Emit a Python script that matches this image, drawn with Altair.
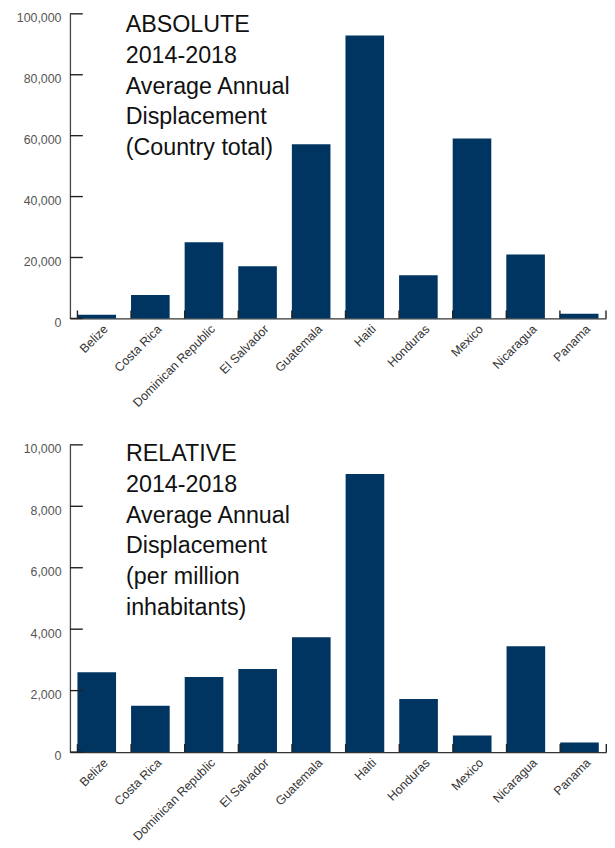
import altair as alt
import pandas as pd

countries = ["Belize", "Costa Rica", "Dominican Republic", "El Salvador", "Guatemala",
             "Haiti", "Honduras", "Mexico", "Nicaragua", "Panama"]
absolute = [1200, 7700, 25000, 17100, 57200, 92900, 14200, 59100, 21000, 1500]
relative = [2600, 1510, 2440, 2700, 3740, 9050, 1730, 540, 3440, 313]
abs_ticks = [0, 20000, 40000, 60000, 80000, 100000]
rel_ticks = [0, 2000, 4000, 6000, 8000, 10000]
abs_title = ["ABSOLUTE", "2014-2018", "Average Annual", "Displacement", "(Country total)"]
rel_title = ["RELATIVE", "2014-2018", "Average Annual", "Displacement", "(per million", "inhabitants)"]

BAR = "#003461"
FONT = "Liberation Sans"


def panel(values, ticks, title_lines, w, h, ymax, tx, ty):
    df = pd.DataFrame({"country": countries, "value": values})
    xscale = alt.Scale(paddingInner=0.28, paddingOuter=0.14)
    yscale = alt.Scale(domain=[0, ymax], nice=False)
    xaxis = alt.Axis(title=None, labelAngle=-45, ticks=False, tickSize=0, domainColor="#333",
                     domainWidth=1.3, labelColor="#333", labelFontSize=12.5, labelFont=FONT,
                     labelPadding=4, labelOffset=5)
    yaxis = alt.Axis(title=None, values=ticks, format=",d", ticks=False, tickSize=0,
                     domainColor="#444", domainWidth=1.3, labelColor="#555", labelFontSize=12.5,
                     labelFont=FONT, labelPadding=9, labelOffset=4, grid=False)

    bars = alt.Chart(df).mark_bar(color=BAR).encode(
        x=alt.X("country:N", sort=countries, scale=xscale, axis=xaxis),
        y=alt.Y("value:Q", scale=yscale, axis=yaxis),
    )
    tdf = pd.DataFrame({"value": ticks})
    yticks = alt.Chart(tdf).mark_rule(color="#222", strokeWidth=1.4).encode(
        y=alt.Y("value:Q", scale=yscale, axis=yaxis),
        x=alt.value(0), x2=alt.value(13),
    )
    xticks = alt.Chart(df).mark_rule(color="#222", strokeWidth=1.4).encode(
        x=alt.X("country:N", sort=countries, scale=xscale, axis=xaxis, bandPosition=0),
        y=alt.value(h - 8), y2=alt.value(h),
    )
    xend = alt.Chart(pd.DataFrame({"a": [0]})).mark_rule(color="#222", strokeWidth=1.4).encode(
        x=alt.value(w), y=alt.value(h - 8), y2=alt.value(h),
    )
    title = alt.Chart(pd.DataFrame({"t": ["\n".join(title_lines)]})).mark_text(
        align="left", baseline="alphabetic", fontSize=23.5, font=FONT, color="#111",
        lineHeight=31, lineBreak="\n",
    ).encode(x=alt.value(tx), y=alt.value(ty), text="t:N")
    return alt.layer(bars, yticks, xticks, xend, title).properties(width=w, height=h)


top = panel(absolute, abs_ticks, abs_title, 541, 307.4, 100000, 56.3, 18.6)
bottom = panel(relative, rel_ticks, rel_title, 541.3, 310, 10000, 56.6, 16.6)

chart = alt.vconcat(top, bottom, spacing=33).properties(
    padding={"top": 0, "left": 7.5, "right": 0, "bottom": 5}
).configure(font=FONT).configure_view(strokeWidth=0)

chart.save("out.html", embed_options={"renderer": "svg", "actions": False})
